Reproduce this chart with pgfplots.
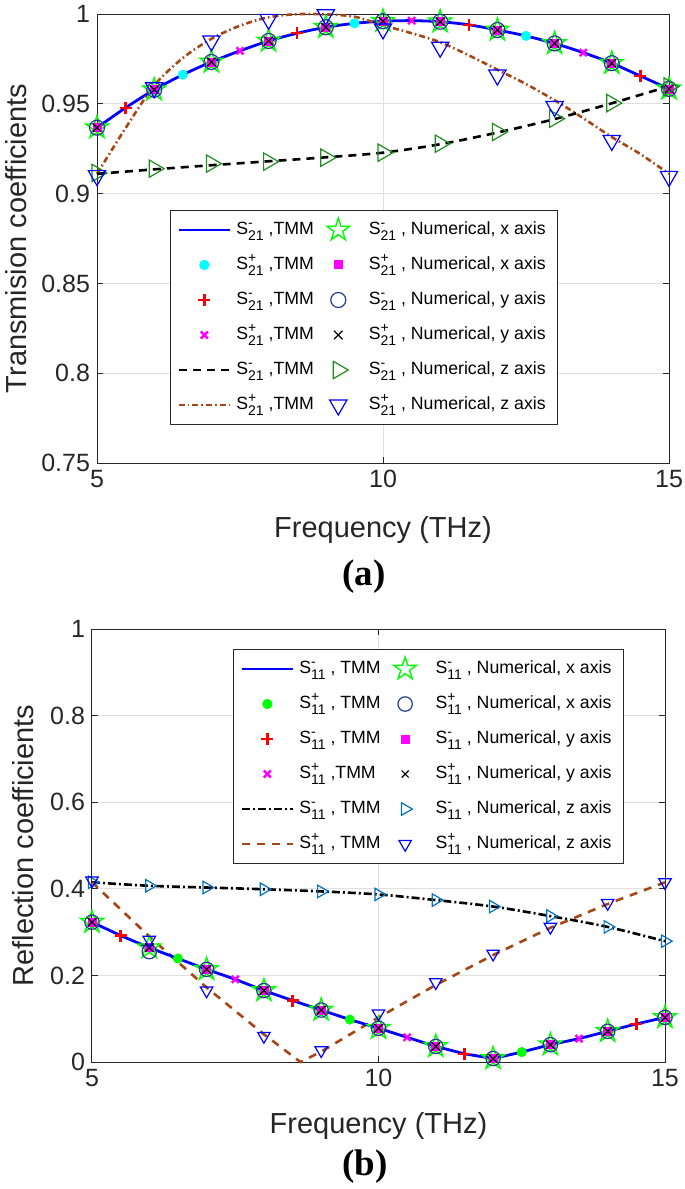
\documentclass[border=0pt]{standalone}
\usepackage{fontspec}
\setmainfont{Liberation Sans}
\newfontfamily\capfont{Liberation Serif}
\usepackage{pgfplots}
\pgfplotsset{compat=1.18}

\definecolor{brn}{RGB}{165,70,20}
\definecolor{navy}{RGB}{40,60,150}
\definecolor{dgreen}{RGB}{30,140,30}
\definecolor{mblue}{RGB}{0,114,189}
\definecolor{axgray}{RGB}{38,38,38}
\definecolor{mcyan}{RGB}{0,255,255}
\definecolor{mmag}{RGB}{255,0,255}
\definecolor{mgreen}{RGB}{0,255,0}
\definecolor{mred}{RGB}{255,0,0}
\definecolor{mbl}{RGB}{0,0,255}

% S with stacked super- and subscript, MATLAB style
\newcommand{\Sx}[2]{S\rlap{\raisebox{3.6pt}{\fontsize{7}{7}\selectfont #1}}\raisebox{-3.2pt}{\fontsize{7}{7}\selectfont #2}}
\newcommand{\Sm}[1]{\Sx{-}{#1}}
\newcommand{\Sp}[1]{\Sx{+}{#1}}

% open five-pointed star like MATLAB's pentagram
\pgfdeclareplotmark{pentagram}{%
  \pgfpathmoveto{\pgfpointpolar{90}{\pgfplotmarksize}}%
  \pgfpathlineto{\pgfpointpolar{126}{0.382*\pgfplotmarksize}}%
  \pgfpathlineto{\pgfpointpolar{162}{\pgfplotmarksize}}%
  \pgfpathlineto{\pgfpointpolar{198}{0.382*\pgfplotmarksize}}%
  \pgfpathlineto{\pgfpointpolar{234}{\pgfplotmarksize}}%
  \pgfpathlineto{\pgfpointpolar{270}{0.382*\pgfplotmarksize}}%
  \pgfpathlineto{\pgfpointpolar{306}{\pgfplotmarksize}}%
  \pgfpathlineto{\pgfpointpolar{342}{0.382*\pgfplotmarksize}}%
  \pgfpathlineto{\pgfpointpolar{18}{\pgfplotmarksize}}%
  \pgfpathlineto{\pgfpointpolar{54}{0.382*\pgfplotmarksize}}%
  \pgfpathclose
  \pgfusepathqstroke
}

\pgfplotsset{
  mat/.style={
    scale only axis, clip=false,
    xmin=5, xmax=15, xtick={5,10,15},
    axis line style={axgray, line width=0.5pt},
    tick style={axgray, line width=0.5pt},
    tick align=inside, major tick length=3pt,
    xtick pos=both, ytick pos=both,
    xticklabel pos=bottom, yticklabel pos=left,
    grid=major, grid style={black!12, line width=0.5pt},
    ticklabel style={font=\fontsize{12.5}{14}\selectfont, text=axgray},
    /pgf/number format/assume math mode=true,
    label style={font=\fontsize{14.5}{17}\selectfont, text=axgray},
    legend cell align=left,
    legend columns=2,
    legend image code/.code={%
      \pgfpathrectangle{\pgfpoint{0pt}{-1pt}}{\pgfpoint{25.5pt}{2pt}}%
      \pgfusepath{}%
      \draw[mark repeat=2, mark phase=2, ##1]
      plot coordinates {(0pt,0pt) (12.75pt,0pt) (25.5pt,0pt)};},
    legend style={font=\fontsize{8.85}{10}\selectfont, text=black, draw=axgray,
      line width=0.5pt, fill=white, inner xsep=3.5pt, inner ysep=1pt,
      nodes={inner xsep=2.5pt, inner ysep=1.5pt, text height=9.5pt, text depth=5pt},
      /tikz/every even column/.append style={column sep=-3pt}},
  },
}

\begin{document}
\begin{tikzpicture}
\useasboundingbox (0,0) rectangle (342.5pt,-594.5pt);

% ---------------- (a) transmission ----------------
\begin{axis}[mat,
  at={(48.5pt,-231.5pt)}, anchor=south west,
  width=286pt, height=224.5pt,
  ymin=0.75, ymax=1,
  ytick={0.75,0.8,0.85,0.9,0.95,1},
  yticklabels={0.75,0.8,0.85,0.9,0.95,1},
  xlabel={Frequency (THz)},
  ylabel={Transmision coefficients},
  xlabel style={at={(axis description cs:0.5,-0.149)}, anchor=center},
  ylabel style={at={(axis description cs:-0.142,0.5)}, anchor=center},
  legend style={at={(axis description cs:0.1276,0.5635)}, anchor=north west},
]
  \addplot[mbl, line width=1.4pt, smooth, forget plot] coordinates {
    (5,0.9367)(5.5,0.9478)(6,0.9578)(6.5,0.9662)(7,0.9733)(7.5,0.9795)(8,0.9850)
    (8.5,0.9893)(9,0.9926)(9.5,0.9948)(10,0.9960)(10.5,0.9963)(11,0.9957)(11.5,0.9940)
    (12,0.9911)(12.5,0.9878)(13,0.9836)(13.5,0.9785)(14,0.9726)(14.5,0.9655)(15,0.9583)};
  \addplot[brn, line width=1.3pt, dash pattern=on 3pt off 1.5pt on 0.8pt off 1.5pt, smooth, forget plot] coordinates {
    (5,0.911)(5.5,0.9365)(6,0.9602)(6.5,0.9755)(7,0.9862)(7.5,0.9935)(8,0.9982)
    (8.5,0.9999)(9,0.9998)(9.5,0.9985)(10,0.9937)(10.5,0.9893)(11,0.9843)(11.5,0.977)
    (12,0.969)(12.5,0.961)(13,0.952)(13.5,0.942)(14,0.9315)(14.5,0.922)(15,0.911)};
  \addplot[black, line width=1.3pt, dash pattern=on 4pt off 3pt, smooth, forget plot] coordinates {
    (5,0.911)(6,0.9135)(7,0.9158)(8,0.918)(9,0.9202)(10,0.9228)(11,0.9275)
    (12,0.934)(13,0.9415)(14,0.9503)(15,0.9598)};
  % TMM markers
  \addplot[only marks, mred, mark=+, mark size=3pt, line width=1.2pt, forget plot] coordinates {
    (5.5,0.9478)(8.5,0.9893)(11.5,0.9940)(14.5,0.9655)};
  \addplot[only marks, mcyan, mark=*, mark size=2.3pt, forget plot] coordinates {
    (6.5,0.9662)(9.5,0.9948)(12.5,0.9878)};
  \addplot[only marks, mmag, mark=x, mark size=2.5pt, line width=1.2pt, forget plot] coordinates {
    (7.5,0.9795)(10.5,0.9963)(13.5,0.9785)};
  % numerical markers
  \addplot[only marks, mgreen, mark=pentagram, mark size=6pt, line width=0.7pt, forget plot] coordinates {
    (5,0.9367)(6,0.9578)(7,0.9733)(8,0.9850)(9,0.9926)(10,0.9960)(11,0.9957)
    (12,0.9911)(13,0.9836)(14,0.9726)(15,0.9583)};
  \addplot[only marks, mmag, mark=square*, mark size=2pt, forget plot] coordinates {
    (5,0.9367)(6,0.9578)(7,0.9733)(8,0.9850)(9,0.9926)(10,0.9960)(11,0.9957)
    (12,0.9911)(13,0.9836)(14,0.9726)(15,0.9583)};
  \addplot[only marks, navy, mark=o, mark size=3.75pt, line width=0.6pt, forget plot] coordinates {
    (5,0.9367)(6,0.9578)(7,0.9733)(8,0.9850)(9,0.9926)(10,0.9960)(11,0.9957)
    (12,0.9911)(13,0.9836)(14,0.9726)(15,0.9583)};
  \addplot[only marks, black, mark=x, mark size=3pt, line width=0.6pt, forget plot] coordinates {
    (5,0.9367)(6,0.9578)(7,0.9733)(8,0.9850)(9,0.9926)(10,0.9960)(11,0.9957)
    (12,0.9911)(13,0.9836)(14,0.9726)(15,0.9583)};
  \addplot[only marks, dgreen, mark=triangle, mark size=5pt, mark options={rotate=-90}, line width=0.6pt, forget plot] coordinates {
    (5,0.9115)(6,0.9139)(7,0.9167)(8,0.9178)(9,0.92)(10,0.9228)(11,0.9278)
    (12,0.9343)(13,0.9417)(14,0.9504)(15,0.9596)};
  \addplot[only marks, mbl, mark=triangle, mark size=5pt, mark options={rotate=180}, line width=0.6pt, forget plot] coordinates {
    (5,0.910)(6,0.9589)(7,0.985)(8,0.997)(9,0.9996)(10,0.9917)(11,0.9815)
    (12,0.966)(13,0.9485)(14,0.9296)(15,0.9096)};

  % legend, filled row by row
  \addlegendimage{mbl, line width=1.4pt}
  \addlegendentry{\Sm{21} ,TMM}
  \addlegendimage{only marks, mgreen, mark=pentagram, mark size=6pt, line width=0.7pt}
  \addlegendentry{\Sm{21} , Numerical, x axis}
  \addlegendimage{only marks, mcyan, mark=*, mark size=2.3pt}
  \addlegendentry{\Sp{21} ,TMM}
  \addlegendimage{only marks, mmag, mark=square*, mark size=2pt}
  \addlegendentry{\Sp{21} , Numerical, x axis}
  \addlegendimage{only marks, mred, mark=+, mark size=3pt, line width=1.2pt}
  \addlegendentry{\Sm{21} ,TMM}
  \addlegendimage{only marks, navy, mark=o, mark size=3.75pt, line width=0.6pt}
  \addlegendentry{\Sm{21} , Numerical, y axis}
  \addlegendimage{only marks, mmag, mark=x, mark size=2.5pt, line width=1.2pt}
  \addlegendentry{\Sp{21} ,TMM}
  \addlegendimage{only marks, black, mark=x, mark size=3pt, line width=0.6pt}
  \addlegendentry{\Sp{21} , Numerical, y axis}
  \addlegendimage{black, line width=1.3pt, dash pattern=on 4pt off 3pt}
  \addlegendentry{\Sm{21} ,TMM}
  \addlegendimage{only marks, dgreen, mark=triangle, mark size=5pt, mark options={rotate=-90}, line width=0.6pt}
  \addlegendentry{\Sm{21} , Numerical, z axis}
  \addlegendimage{brn, line width=1.3pt, dash pattern=on 3pt off 1.5pt on 0.8pt off 1.5pt}
  \addlegendentry{\Sp{21} ,TMM}
  \addlegendimage{only marks, mbl, mark=triangle, mark size=5pt, mark options={rotate=180}, line width=0.6pt}
  \addlegendentry{\Sp{21} , Numerical, z axis}
\end{axis}

% ---------------- (b) reflection ----------------
\begin{axis}[mat,
  at={(46pt,-531pt)}, anchor=south west,
  width=286.5pt, height=216.5pt,
  ymin=0, ymax=1,
  ytick={0,0.2,0.4,0.6,0.8,1},
  yticklabels={0,0.2,0.4,0.6,0.8,1},
  xlabel={Frequency (THz)},
  ylabel={Reflection coefficients},
  xlabel style={at={(axis description cs:0.5,-0.148)}, anchor=center},
  ylabel style={at={(axis description cs:-0.120,0.5)}, anchor=center},
  legend style={at={(axis description cs:0.246,0.9538)}, anchor=north west},
]
  \addplot[black, line width=1.3pt, dash pattern=on 4pt off 1.5pt on 1pt off 1.5pt, smooth, forget plot] coordinates {
    (5,0.415)(6,0.407)(7,0.403)(8,0.399)(9,0.394)(10,0.387)(11,0.374)
    (12,0.359)(13,0.337)(14,0.312)(15,0.279)};
  \addplot[brn, line width=1.3pt, dash pattern=on 4pt off 3.5pt, forget plot] coordinates {
    (5,0.415)(6,0.29)(7,0.172)(8,0.064)(8.64,0)(9,0.024)(10,0.103)(11,0.178)
    (12,0.247)(13,0.31)(14,0.365)(15,0.415)};
  \addplot[mbl, line width=1.4pt, forget plot] coordinates {
    (5,0.323)(5.5,0.292)(6,0.264)(6.5,0.239)(7,0.214)(7.5,0.191)(8,0.165)
    (8.5,0.142)(9,0.120)(9.5,0.098)(10,0.078)(10.5,0.057)(11,0.036)(11.5,0.019)
    (12,0.008)(12.5,0.023)(13,0.040)(13.5,0.054)(14,0.071)(14.5,0.088)(15,0.103)};
  % TMM markers
  \addplot[only marks, mred, mark=+, mark size=3pt, line width=1.2pt, forget plot] coordinates {
    (5.5,0.292)(8.5,0.142)(11.5,0.019)(14.5,0.088)};
  \addplot[only marks, mgreen, mark=*, mark size=2.3pt, forget plot] coordinates {
    (6.5,0.239)(9.5,0.098)(12.5,0.023)};
  \addplot[only marks, mmag, mark=x, mark size=2.5pt, line width=1.2pt, forget plot] coordinates {
    (7.5,0.191)(10.5,0.057)(13.5,0.054)};
  % numerical markers
  \addplot[only marks, mgreen, mark=pentagram, mark size=6pt, line width=0.7pt, forget plot] coordinates {
    (5,0.323)(6,0.264)(7,0.214)(8,0.165)(9,0.120)(10,0.078)(11,0.036)
    (12,0.008)(13,0.040)(14,0.071)(15,0.103)};
  \addplot[only marks, mmag, mark=square*, mark size=2pt, forget plot] coordinates {
    (5,0.323)(6,0.264)(7,0.214)(8,0.165)(9,0.120)(10,0.078)(11,0.036)
    (12,0.008)(13,0.040)(14,0.071)(15,0.103)};
  \addplot[only marks, navy, mark=o, mark size=3.6pt, line width=0.6pt, forget plot] coordinates {
    (5,0.323)(6,0.255)(7,0.214)(8,0.165)(9,0.120)(10,0.078)(11,0.036)
    (12,0.008)(13,0.040)(14,0.071)(15,0.103)};
  \addplot[only marks, black, mark=x, mark size=3pt, line width=0.6pt, forget plot] coordinates {
    (5,0.323)(6,0.264)(7,0.214)(8,0.165)(9,0.120)(10,0.078)(11,0.036)
    (12,0.008)(13,0.040)(14,0.071)(15,0.103)};
  \addplot[only marks, mblue, mark=triangle, mark size=3.6pt, mark options={rotate=-90}, line width=0.6pt, forget plot] coordinates {
    (5,0.415)(6,0.407)(7,0.403)(8,0.399)(9,0.394)(10,0.387)(11,0.374)
    (12,0.359)(13,0.337)(14,0.312)(15,0.279)};
  \addplot[only marks, mbl, mark=triangle, mark size=3.6pt, mark options={rotate=180}, line width=0.6pt, forget plot] coordinates {
    (5,0.419)(6,0.282)(7,0.165)(8,0.060)(9,0.027)(10,0.112)(11,0.184)
    (12,0.250)(13,0.312)(14,0.367)(15,0.415)};

  \addlegendimage{mbl, line width=1.4pt}
  \addlegendentry{\Sm{11} , TMM}
  \addlegendimage{only marks, mgreen, mark=pentagram, mark size=6pt, line width=0.7pt}
  \addlegendentry{\Sm{11} , Numerical, x axis}
  \addlegendimage{only marks, mgreen, mark=*, mark size=2.3pt}
  \addlegendentry{\Sp{11} , TMM}
  \addlegendimage{only marks, navy, mark=o, mark size=3.6pt, line width=0.6pt}
  \addlegendentry{\Sp{11} , Numerical, x axis}
  \addlegendimage{only marks, mred, mark=+, mark size=3pt, line width=1.2pt}
  \addlegendentry{\Sm{11} , TMM}
  \addlegendimage{only marks, mmag, mark=square*, mark size=2pt}
  \addlegendentry{\Sm{11} , Numerical, y axis}
  \addlegendimage{only marks, mmag, mark=x, mark size=2.5pt, line width=1.2pt}
  \addlegendentry{\Sp{11} ,TMM}
  \addlegendimage{only marks, black, mark=x, mark size=2.5pt, line width=0.6pt}
  \addlegendentry{\Sp{11} , Numerical, y axis}
  \addlegendimage{black, line width=1.3pt, dash pattern=on 4pt off 1.5pt on 1pt off 1.5pt}
  \addlegendentry{\Sm{11} , TMM}
  \addlegendimage{only marks, mblue, mark=triangle, mark size=3.6pt, mark options={rotate=-90}, line width=0.6pt}
  \addlegendentry{\Sm{11} , Numerical, z axis}
  \addlegendimage{brn, line width=1.3pt, dash pattern=on 4pt off 3.5pt}
  \addlegendentry{\Sp{11} , TMM}
  \addlegendimage{only marks, mbl, mark=triangle, mark size=3.6pt, mark options={rotate=180}, line width=0.6pt}
  \addlegendentry{\Sp{11} , Numerical, z axis}
\end{axis}

\node[font=\capfont\bfseries\fontsize{18.5}{20}\selectfont] at (182pt,-288.5pt) {(a)};
\node[font=\capfont\bfseries\fontsize{18.5}{20}\selectfont] at (182.5pt,-583.5pt) {(b)};
\end{tikzpicture}
\end{document}
